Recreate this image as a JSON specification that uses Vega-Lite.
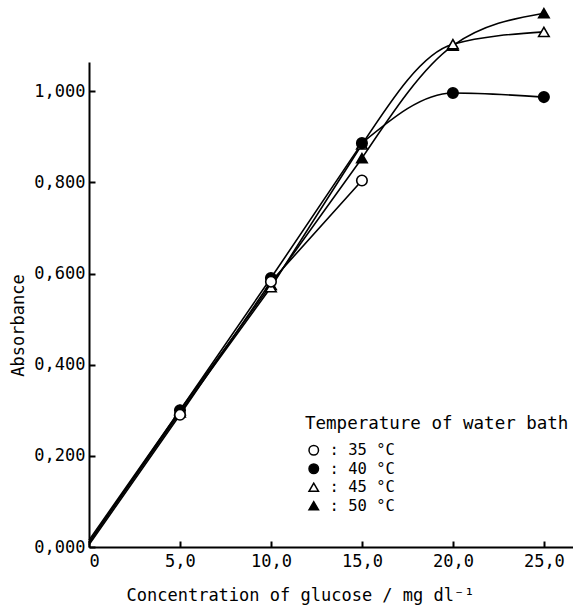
{
  "$schema": "https://vega.github.io/schema/vega-lite/v6.json",
  "width": 484,
  "height": 485,
  "autosize": "none",
  "padding": {"left": 89, "top": 62, "right": 0, "bottom": 64},
  "background": "white",
  "config": {
    "view": {"stroke": null},
    "font": "DejaVu Sans Mono",
    "axis": {
      "grid": false,
      "domainColor": "black",
      "domainWidth": 2,
      "tickColor": "black",
      "tickWidth": 2,
      "tickSize": -6,
      "labelFont": "DejaVu Sans Mono",
      "labelFontSize": 17,
      "labelColor": "black",
      "titleFont": "DejaVu Sans Mono",
      "titleFontSize": 17,
      "titleFontWeight": "normal",
      "titleColor": "black"
    },
    "legend": {
      "titleFont": "DejaVu Sans Mono",
      "titleFontSize": 17.5,
      "titleFontWeight": "normal",
      "titleColor": "black",
      "labelFont": "DejaVu Sans Mono",
      "labelFontSize": 15.5,
      "labelColor": "black"
    }
  },
  "data": {
    "values": [
      {"temp": "50", "conc": 0, "abs": 0.015},
      {"temp": "50", "conc": 5, "abs": 0.3},
      {"temp": "50", "conc": 10, "abs": 0.575},
      {"temp": "50", "conc": 15, "abs": 0.853},
      {"temp": "50", "conc": 20, "abs": 1.1},
      {"temp": "50", "conc": 25, "abs": 1.171},
      {"temp": "45", "conc": 0, "abs": 0.01},
      {"temp": "45", "conc": 5, "abs": 0.295},
      {"temp": "45", "conc": 10, "abs": 0.57},
      {"temp": "45", "conc": 15, "abs": 0.883},
      {"temp": "45", "conc": 20, "abs": 1.103},
      {"temp": "45", "conc": 25, "abs": 1.13},
      {"temp": "40", "conc": 0, "abs": 0.01},
      {"temp": "40", "conc": 5, "abs": 0.3},
      {"temp": "40", "conc": 10, "abs": 0.59},
      {"temp": "40", "conc": 15, "abs": 0.886},
      {"temp": "40", "conc": 20, "abs": 0.996},
      {"temp": "40", "conc": 25, "abs": 0.987},
      {"temp": "35", "conc": 0, "abs": 0.005},
      {"temp": "35", "conc": 5, "abs": 0.29},
      {"temp": "35", "conc": 10, "abs": 0.582},
      {"temp": "35", "conc": 15, "abs": 0.804}
    ]
  },
  "encoding": {
    "x": {
      "field": "conc",
      "type": "quantitative",
      "scale": {"domain": [0, 26.6], "nice": false, "zero": false},
      "axis": {
        "values": [0, 5, 10, 15, 20, 25],
        "labelExpr": "datum.value == 0 ? '0' : replace(format(datum.value, '.1f'), '.', ',')",
        "labelPadding": 12,
        "title": "Concentration of glucose / mg dl⁻¹",
        "titleX": 211,
        "titleY": 48,
        "titleAnchor": null,
        "titleAlign": "center",
        "titleBaseline": "middle"
      }
    },
    "y": {
      "field": "abs",
      "type": "quantitative",
      "scale": {"domain": [0, 1.064], "nice": false, "zero": false},
      "axis": {
        "values": [0, 0.2, 0.4, 0.6, 0.8, 1.0],
        "labelExpr": "replace(format(datum.value, '.3f'), '.', ',')",
        "labelPadding": 10,
        "title": "Absorbance",
        "titleAngle": 270,
        "titleX": -71,
        "titleY": 263,
        "titleAlign": "center",
        "titleBaseline": "middle"
      }
    }
  },
  "layer": [
    {
      "transform": [{"filter": "datum.conc <= 15"}],
      "mark": {"type": "line", "interpolate": "linear", "color": "black", "strokeWidth": 1.6, "clip": false},
      "encoding": {"detail": {"field": "temp"}}
    },
    {
      "transform": [{"filter": "datum.conc >= 15"}],
      "mark": {"type": "line", "interpolate": "monotone", "color": "black", "strokeWidth": 1.6, "clip": false},
      "encoding": {"detail": {"field": "temp"}}
    },
    {
      "transform": [{"filter": "datum.conc > 0"}],
      "mark": {"type": "point", "filled": true, "size": 110, "stroke": "black", "strokeWidth": 1.6, "opacity": 1, "clip": false},
      "encoding": {
        "shape": {
          "field": "temp",
          "type": "nominal",
          "scale": {"domain": ["35", "40", "45", "50"], "range": ["circle", "circle", "triangle-up", "triangle-up"]},
          "title": "Temperature of water bath",
          "legend": {
            "orient": "none",
            "legendX": 216,
            "legendY": 353,
            "titleLimit": 600,
            "titlePadding": 10,
            "labelExpr": "': ' + datum.label + ' °C'",
            "rowPadding": 1.5,
            "symbolSize": 90,
            "symbolOffset": 1,
            "labelOffset": 8,
            "encode": {
              "symbols": {
                "update": {
                  "stroke": {"value": "black"},
                  "strokeWidth": {"value": 1.6},
                  "opacity": {"value": 1}
                }
              }
            }
          }
        },
        "fill": {
          "field": "temp",
          "type": "nominal",
          "scale": {"domain": ["35", "40", "45", "50"], "range": ["white", "black", "white", "black"]},
          "title": "Temperature of water bath"
        }
      }
    }
  ]
}
